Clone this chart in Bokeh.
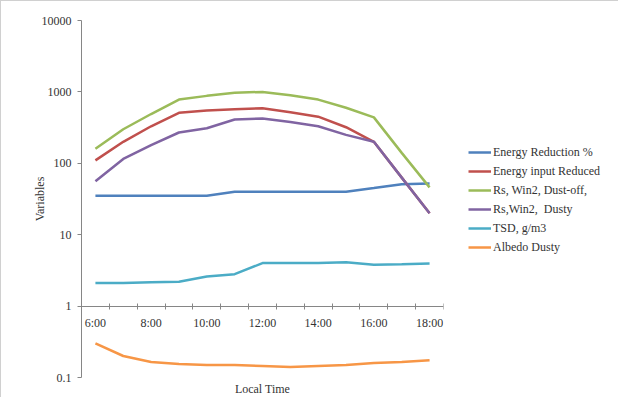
from bokeh.plotting import figure
from bokeh.models import FixedTicker, Legend, LegendItem, Title
from bokeh.embed import file_html
from bokeh.resources import INLINE

hours = [6, 7, 8, 9, 10, 11, 12, 13, 14, 15, 16, 17, 18]
energy_reduction = [35, 35, 35, 35, 35, 40, 40, 40, 40, 40, 45, 51, 52]
energy_input_reduced = [110, 200, 330, 510, 550, 570, 590, 520, 450, 320, 200, 63, 20]
rs_dust_off = [160, 300, 490, 780, 880, 970, 1000, 900, 780, 600, 440, 140, 46]
rs_dusty = [56, 115, 180, 270, 310, 410, 425, 380, 330, 250, 200, 63, 20]
tsd = [2.1, 2.1, 2.15, 2.2, 2.6, 2.8, 4.0, 4.0, 4.0, 4.1, 3.8, 3.85, 3.95]
albedo_dusty = [0.30, 0.20, 0.165, 0.155, 0.15, 0.15, 0.145, 0.14, 0.145, 0.15, 0.16, 0.165, 0.175]

x_tick_hours = [6, 8, 10, 12, 14, 16, 18]
x_tick_labels = ["6:00", "8:00", "10:00", "12:00", "14:00", "16:00", "18:00"]
y_ticks = [0.1, 1, 10, 100, 1000, 10000]
y_tick_labels = ["0.1", "1", "10", "100", "1000", "10000"]

series = [
    ("Energy Reduction %", energy_reduction, "#4F81BD"),
    ("Energy input Reduced", energy_input_reduced, "#C0504D"),
    ("Rs, Win2, Dust-off,", rs_dust_off, "#9BBB59"),
    ("Rs,Win2,  Dusty", rs_dusty, "#8064A2"),
    ("TSD, g/m3", tsd, "#4BACC6"),
    ("Albedo Dusty", albedo_dusty, "#F79646"),
]

FONT = "Liberation Serif"

p = figure(
    frame_width=362, frame_height=357,
    x_range=(5.5, 18.5), y_range=(0.1, 10000), y_axis_type="log",
    output_backend="svg", toolbar_location=None,
    min_border_left=80, min_border_right=160, min_border_top=19, min_border_bottom=18,
)
p.styles = {"border-top": "1px solid #d0d0d0", "border-left": "1px solid #d0d0d0"}
p.outline_line_color = None
p.xgrid.visible = False
p.ygrid.visible = False

items = []
for name, vals, col in series:
    r = p.line(hours, vals, line_color=col, line_width=2.5)
    items.append(LegendItem(label=name, renderers=[r]))

# x axis crossing at y = 1
xa = p.xaxis[0]
xa.fixed_location = 1
xa.ticker = FixedTicker(ticks=x_tick_hours, minor_ticks=[h - 0.5 for h in hours] + [hours[-1] + 0.5])
xa.major_label_overrides = dict(zip(x_tick_hours, x_tick_labels))
xa.major_tick_in = 0
xa.major_tick_out = 0
xa.minor_tick_in = 3
xa.minor_tick_out = 3
xa.minor_tick_line_color = "#868686"
xa.axis_line_color = "#868686"
xa.major_label_standoff = 7
xa.major_label_text_font = FONT
xa.major_label_text_font_size = "12px"
xa.major_label_text_color = "#333333"

ya = p.yaxis[0]
ya.ticker = FixedTicker(ticks=y_ticks, minor_ticks=[])
ya.major_label_overrides = dict(zip(y_ticks, y_tick_labels))
ya.major_tick_in = 0
ya.major_tick_out = 4
ya.major_tick_line_color = "#868686"
ya.axis_line_color = "#868686"
ya.major_label_standoff = 6
ya.major_label_text_font = FONT
ya.major_label_text_font_size = "12px"
ya.major_label_text_color = "#333333"
ya.axis_label = "Variables"
ya.axis_label_text_font = FONT
ya.axis_label_text_font_size = "12px"
ya.axis_label_text_font_style = "normal"
ya.axis_label_text_color = "#333333"
ya.axis_label_standoff = -8

p.add_layout(Title(text="Local Time", align="center", text_font=FONT, text_font_size="12px",
                   text_font_style="normal", text_color="#333333", standoff=4), "below")

legend = Legend(items=items, location=(25, 122), padding=0, margin=0,
                glyph_width=23, glyph_height=16, label_height=16, spacing=3,
                label_standoff=2, label_text_font=FONT, label_text_font_size="12px",
                label_text_color="#333333", border_line_color=None, background_fill_alpha=0)
p.add_layout(legend, "right")

open("out.html", "w").write(file_html(p, INLINE))
